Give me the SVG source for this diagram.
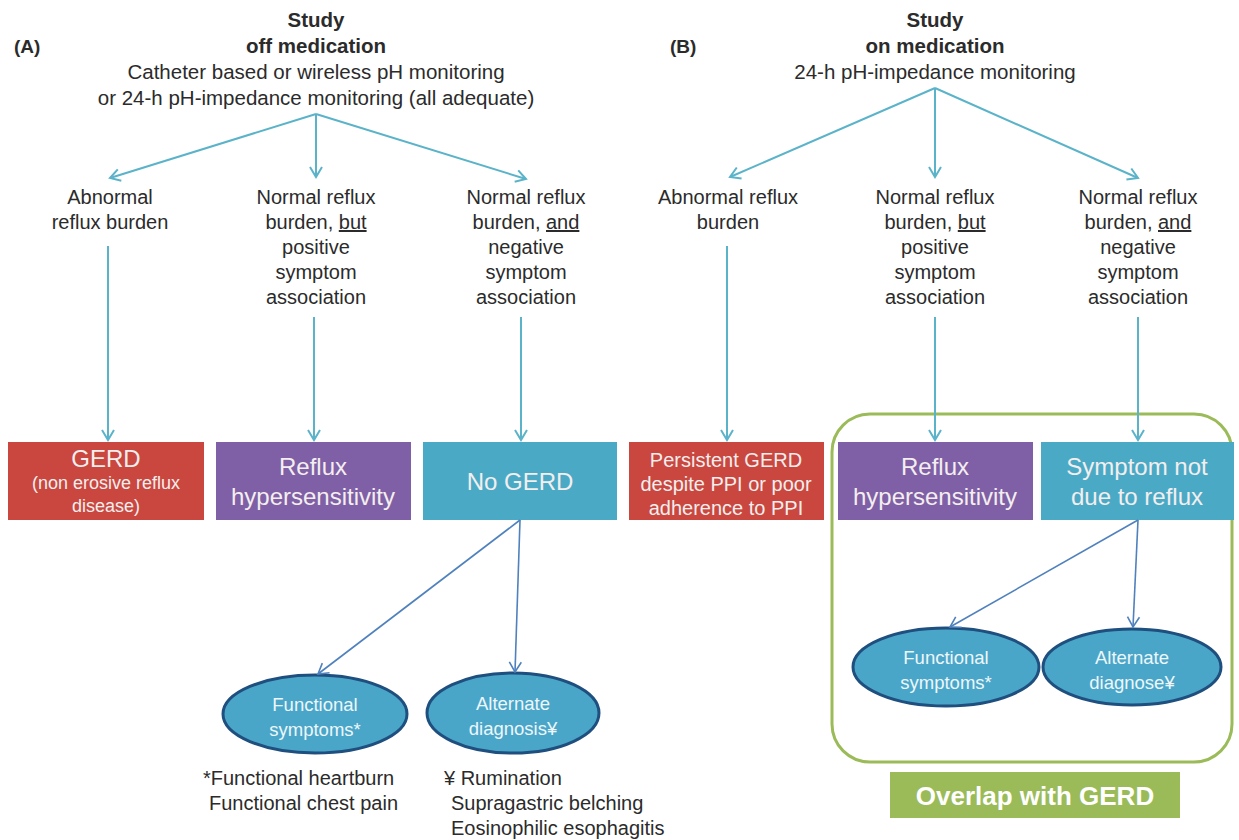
<svg xmlns="http://www.w3.org/2000/svg" width="1239" height="840" viewBox="0 0 1239 840">
<style>
text{font-family:"Liberation Sans",Arial,sans-serif;fill:#2b2b2b;}
.t{font-size:20px;text-anchor:middle;}
.hd{font-size:20.5px;text-anchor:middle;}
.h{font-size:20.5px;font-weight:bold;text-anchor:middle;}
.lbl{font-size:19px;font-weight:bold;}
.bx{font-size:24px;text-anchor:middle;fill:#f4eeee;}
.bxs{font-size:18px;text-anchor:middle;fill:#f4eeee;}
.bxm{font-size:20px;text-anchor:middle;fill:#f4eeee;}
.el{font-size:18.5px;text-anchor:middle;fill:#eef6fa;}
.fn{font-size:20px;}
.u{text-decoration:underline;}
.c1{stroke:#5bb3c9;stroke-width:2;fill:none;}
.c2{stroke:#4f81bd;stroke-width:1.6;fill:none;}
.red{fill:#c9473f;}
.pur{fill:#7f60a6;}
.teal{fill:#4aaac6;}
.ell{fill:#49a6c9;stroke:#1f4f7e;stroke-width:3;}
</style>
<defs>
<marker id="a1" markerUnits="userSpaceOnUse" markerWidth="16" markerHeight="16" refX="12" refY="8" orient="auto">
<path d="M2,2 L12,8 L2,14" fill="none" stroke="#5bb3c9" stroke-width="2"/>
</marker>
<marker id="a2" markerUnits="userSpaceOnUse" markerWidth="16" markerHeight="16" refX="12" refY="8" orient="auto">
<path d="M2,2 L12,8 L2,14" fill="none" stroke="#4f81bd" stroke-width="1.6"/>
</marker>
</defs>
<rect width="1239" height="840" fill="#ffffff"/>

<g id="headerA">
<text class="lbl" x="14" y="53">(A)</text>
<text class="h" x="316" y="27">Study</text>
<text class="h" x="316" y="53">off medication</text>
<text class="hd" x="316" y="79">Catheter based or wireless pH monitoring</text>
<text class="hd" x="316" y="105">or 24-h pH-impedance monitoring (all adequate)</text>
</g>
<g id="headerB">
<text class="lbl" x="670" y="53">(B)</text>
<text class="h" x="935" y="27">Study</text>
<text class="h" x="935" y="53">on medication</text>
<text class="hd" x="935" y="79">24-h pH-impedance monitoring</text>
</g>

<g id="labelsA">
<text class="t" x="110" y="204">Abnormal</text>
<text class="t" x="110" y="229">reflux burden</text>
<text class="t" x="316" y="204">Normal reflux</text>
<text class="t" x="316" y="229">burden, <tspan class="u">but</tspan></text>
<text class="t" x="316" y="254">positive</text>
<text class="t" x="316" y="279">symptom</text>
<text class="t" x="316" y="304">association</text>
<text class="t" x="526" y="204">Normal reflux</text>
<text class="t" x="526" y="229">burden, <tspan class="u">and</tspan></text>
<text class="t" x="526" y="254">negative</text>
<text class="t" x="526" y="279">symptom</text>
<text class="t" x="526" y="304">association</text>
</g>
<g id="labelsB">
<text class="t" x="728" y="204">Abnormal reflux</text>
<text class="t" x="728" y="229">burden</text>
<text class="t" x="935" y="204">Normal reflux</text>
<text class="t" x="935" y="229">burden, <tspan class="u">but</tspan></text>
<text class="t" x="935" y="254">positive</text>
<text class="t" x="935" y="279">symptom</text>
<text class="t" x="935" y="304">association</text>
<text class="t" x="1138" y="204">Normal reflux</text>
<text class="t" x="1138" y="229">burden, <tspan class="u">and</tspan></text>
<text class="t" x="1138" y="254">negative</text>
<text class="t" x="1138" y="279">symptom</text>
<text class="t" x="1138" y="304">association</text>
</g>

<g id="overlap">
<rect x="832" y="414" width="400" height="348" rx="38" fill="none" stroke="#9bbb59" stroke-width="3"/>
<rect x="890" y="772" width="290" height="46" fill="#9bbb59"/>
<text x="1035" y="805" style="font-size:26px;font-weight:bold;text-anchor:middle;fill:#ffffff;">Overlap with GERD</text>
</g>

<g id="gerdA">
<rect class="red" x="8" y="442" width="196" height="78"/>
<text class="bx" x="106" y="467">GERD</text>
<text class="bxs" x="106" y="489">(non erosive reflux</text>
<text class="bxs" x="106" y="512">disease)</text>
</g>
<g id="refluxA">
<rect class="pur" x="216" y="442" width="195" height="78"/>
<text class="bx" x="313" y="475">Reflux</text>
<text class="bx" x="313" y="505">hypersensitivity</text>
</g>
<g id="nogerd">
<rect class="teal" x="423" y="442" width="194" height="78"/>
<text class="bx" x="520" y="490">No GERD</text>
</g>
<g id="persistent">
<rect class="red" x="629" y="442" width="195" height="78"/>
<text class="bxm" x="726" y="467">Persistent GERD</text>
<text class="bxm" x="726" y="491">despite PPI or poor</text>
<text class="bxm" x="726" y="515">adherence to PPI</text>
</g>
<g id="refluxB">
<rect class="pur" x="838" y="442" width="195" height="78"/>
<text class="bx" x="935" y="475">Reflux</text>
<text class="bx" x="935" y="505">hypersensitivity</text>
</g>
<g id="notreflux">
<rect class="teal" x="1041" y="442" width="193" height="78"/>
<text class="bx" x="1137" y="475">Symptom not</text>
<text class="bx" x="1137" y="505">due to reflux</text>
</g>

<g id="funcA">
<ellipse class="ell" cx="315" cy="714" rx="92" ry="39"/>
<text class="el" x="315" y="711">Functional</text>
<text class="el" x="315" y="736">symptoms*</text>
</g>
<g id="altA">
<ellipse class="ell" cx="513" cy="713" rx="86" ry="40"/>
<text class="el" x="513" y="710">Alternate</text>
<text class="el" x="513" y="735">diagnosis¥</text>
</g>
<g id="funcB">
<ellipse class="ell" cx="946" cy="667" rx="93" ry="39"/>
<text class="el" x="946" y="664">Functional</text>
<text class="el" x="946" y="689">symptoms*</text>
</g>
<g id="altB">
<ellipse class="ell" cx="1132" cy="667" rx="89" ry="38"/>
<text class="el" x="1132" y="664">Alternate</text>
<text class="el" x="1132" y="689">diagnose¥</text>
</g>

<g id="footnotes">
<text class="fn" x="203" y="785">*Functional heartburn</text>
<text class="fn" x="209" y="810">Functional chest pain</text>
<text class="fn" x="444" y="785">¥ Rumination</text>
<text class="fn" x="451" y="810">Supragastric belching</text>
<text class="fn" x="451" y="835">Eosinophilic esophagitis</text>
</g>

<g id="connectors">
<path class="c1" d="M316,114 L110,178" marker-end="url(#a1)"/>
<path class="c1" d="M316,114 L316,177" marker-end="url(#a1)"/>
<path class="c1" d="M316,114 L526,179" marker-end="url(#a1)"/>
<path class="c1" d="M935,88 L730,177" marker-end="url(#a1)"/>
<path class="c1" d="M935,88 L935,177" marker-end="url(#a1)"/>
<path class="c1" d="M935,88 L1138,178" marker-end="url(#a1)"/>
<path class="c1" d="M108,246 L108,440" marker-end="url(#a1)"/>
<path class="c1" d="M314,317 L314,440" marker-end="url(#a1)"/>
<path class="c1" d="M521,317 L521,440" marker-end="url(#a1)"/>
<path class="c1" d="M727,246 L727,440" marker-end="url(#a1)"/>
<path class="c1" d="M935,317 L935,440" marker-end="url(#a1)"/>
<path class="c1" d="M1138,317 L1138,440" marker-end="url(#a1)"/>
<path class="c2" d="M520,520 L318,674" marker-end="url(#a2)"/>
<path class="c2" d="M520,520 L515,672" marker-end="url(#a2)"/>
<path class="c2" d="M1138,520 L950,627" marker-end="url(#a2)"/>
<path class="c2" d="M1138,520 L1133,627" marker-end="url(#a2)"/>
</g>
</svg>
